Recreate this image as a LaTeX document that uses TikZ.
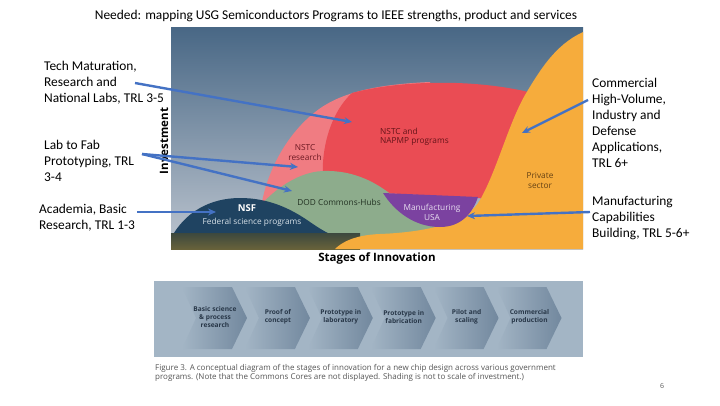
\documentclass[tikz,border=0pt]{standalone}
\usepackage{fontspec}
\setmainfont{Carlito}
\newfontfamily\chartfont{Open Sans}
\usetikzlibrary{arrows.meta}
\definecolor{bgtop}{RGB}{72,103,133}
\definecolor{bgbot}{RGB}{190,198,208}
\definecolor{nstcpink}{RGB}{240,124,130}
\definecolor{nstcred}{RGB}{234,76,84}
\definecolor{dodgreen}{RGB}{141,172,140}
\definecolor{nsfblue}{RGB}{31,67,97}
\definecolor{mfgpurple}{RGB}{123,66,160}
\definecolor{privorange}{RGB}{246,172,60}
\definecolor{soiltop}{RGB}{60,72,62}
\definecolor{soilbot}{RGB}{104,98,58}
\definecolor{arrowblue}{RGB}{68,114,196}
\definecolor{bannergray}{RGB}{163,181,197}
\definecolor{chevdark}{RGB}{114,136,158}
\definecolor{stagetext}{RGB}{40,55,72}
\definecolor{captiongray}{RGB}{85,85,85}

\begin{document}
\begin{tikzpicture}[x=1pt,y=-1pt]
\tikzstyle{every node}+=[inner sep=0pt]
\tikzstyle{callout}=[font=\fontsize{13.4}{16}\selectfont, align=left, anchor=north west]
\tikzstyle{pointer}=[draw=arrowblue, line width=2.4pt, -{Stealth[length=8pt,width=7pt]}]
\tikzstyle{inchart}=[font=\chartfont\fontsize{8.3}{9.5}\selectfont, align=center]
\tikzstyle{axis}=[font=\chartfont\bfseries\fontsize{11.5}{13}\selectfont]
\tikzstyle{stage}=[font=\chartfont\bfseries\fontsize{6.6}{7.6}\selectfont, align=center, text=stagetext]
\tikzstyle{chevron}=[left color=bannergray, right color=chevdark]

\useasboundingbox (0,0) rectangle (720,405);
\fill [white] (0,0) rectangle (720,405);

\node [font=\fontsize{13.4}{16}\selectfont] (title) at (336,16) {Needed: mapping USG Semiconductors Programs to IEEE strengths, product and services};

\shade [top color=bgtop, bottom color=bgbot] (171,27) rectangle (583,249);
\fill [nstcpink] (262,202) .. controls (268,170) and (288,130) .. (322,107) .. controls (348,90) and (385,84) .. (430,82) -- (430,200) -- cycle;
\fill [nstcred] (323,178) .. controls (321,150) and (330,113) .. (352,93) .. controls (400,80) and (480,78) .. (540,95) -- (540,205) -- (478,198) -- (383,193) -- cycle;
\fill [dodgreen] (250,220) .. controls (265,195) and (295,172) .. (323,171) .. controls (355,170) and (378,183) .. (398,200) .. controls (418,216) and (440,226) .. (465,230) -- (465,240) -- (250,240) -- cycle;
\fill [nsfblue] (171,238) .. controls (185,212) and (210,198) .. (240,198) .. controls (268,198) and (290,208) .. (310,222) .. controls (320,229) and (330,235) .. (340,238) -- cycle;
\shade [top color=soiltop, bottom color=soilbot] (171,233) rectangle (360,249);
\fill [privorange] (583,32) .. controls (555,45) and (540,70) .. (525,95) .. controls (508,125) and (497,170) .. (480,200) .. controls (468,222) and (430,232) .. (380,234) .. controls (355,235) and (342,242) .. (335,249) -- (583,249) -- cycle;
\fill [mfgpurple] (383,193) .. controls (395,212) and (415,227) .. (440,227) .. controls (462,227) and (473,212) .. (478,197) -- cycle;

\node [inchart, align=left, anchor=west, text={rgb,255:red,100;green,20;blue,25}] (napmp) at (380,137) {NSTC and\\NAPMP programs};
\node [inchart, text={rgb,255:red,110;green,25;blue,35}] (nstcres) at (305,152.5) {NSTC\\research};
\node [inchart, text={rgb,255:red,35;green,50;blue,35}] (dod) at (339,202) {DOD Commons-Hubs};
\node [inchart, font=\chartfont\bfseries\fontsize{9.5}{11}\selectfont, text=white] (nsf) at (247,208) {NSF};
\node [inchart, text={rgb,255:red,215;green,225;blue,232}] (federal) at (252,222) {Federal science programs};
\node [inchart, text={rgb,255:red,232;green,222;blue,240}] (mfgusa) at (432,212.5) {Manufacturing\\USA};
\node [inchart, text={rgb,255:red,100;green,65;blue,20}] (private) at (540,180.5) {Private\\sector};

\node [axis] (stages) at (377,258) {Stages of Innovation};
\node [axis, rotate=90] (invest) at (164,141) {Investment};

\node [callout] (techmat) at (44,61) {Tech Maturation,\\Research and\\National Labs, TRL 3-5};
\node [callout] (labfab) at (44,140) {Lab to Fab\\Prototyping, TRL\\3-4};
\node [callout] (academia) at (39,204) {Academia, Basic\\Research, TRL 1-3};
\node [callout] (commercial) at (592,78) {Commercial\\High-Volume,\\Industry and\\Defense\\Applications,\\TRL 6+};
\node [callout] (mfgcap) at (592,196) {Manufacturing\\Capabilities\\Building, TRL 5-6+};

\coordinate (techtail) at (135,83);
\coordinate (techhead) at (352,122);
\coordinate (labtail) at (142,154);
\coordinate (labheadA) at (298,167);
\coordinate (labheadB) at (292,191);
\coordinate (acadtail) at (137,212);
\coordinate (acadhead) at (216,212);
\coordinate (commtail) at (588,100);
\coordinate (commhead) at (522,133);
\coordinate (mfgtail) at (590,212);
\coordinate (mfghead) at (467,216);
\draw [pointer] (techtail) -- (techhead);
\draw [pointer] (labtail) -- (labheadA);
\draw [pointer] (labtail) -- (labheadB);
\draw [pointer] (acadtail) -- (acadhead);
\draw [pointer] (commtail) -- (commhead);
\draw [pointer] (mfgtail) -- (mfghead);

\fill [bannergray] (154,281) rectangle (583,357);
\foreach \i/\txt in {0/{Basic science\\\& process\\research}, 1/{Proof of\\concept}, 2/{Prototype in\\laboratory}, 3/{Prototype in\\fabrication}, 4/{Pilot and\\scaling}, 5/{Commercial\\production}} {
  \pgfmathsetmacro\xr{247+62.9*\i}
  \shade [chevron] (\xr-65,287) -- (\xr-15,287) -- (\xr,318) -- (\xr-15,349) -- (\xr-65,349) -- (\xr-51,318) -- cycle;
  \node [stage] (stage\i) at (\xr-32,317) {\txt};
}

\node [font=\chartfont\fontsize{8}{9.5}\selectfont, text=captiongray, align=left, anchor=north west] (caption) at (155,364) {Figure 3. A conceptual diagram of the stages of innovation for a new chip design across various government\\programs. (Note that the Commons Cores are not displayed. Shading is not to scale of investment.)};
\node [font=\chartfont\fontsize{7}{8}\selectfont, text=captiongray] (pagenum) at (662,386) {6};
\end{tikzpicture}
\end{document}
